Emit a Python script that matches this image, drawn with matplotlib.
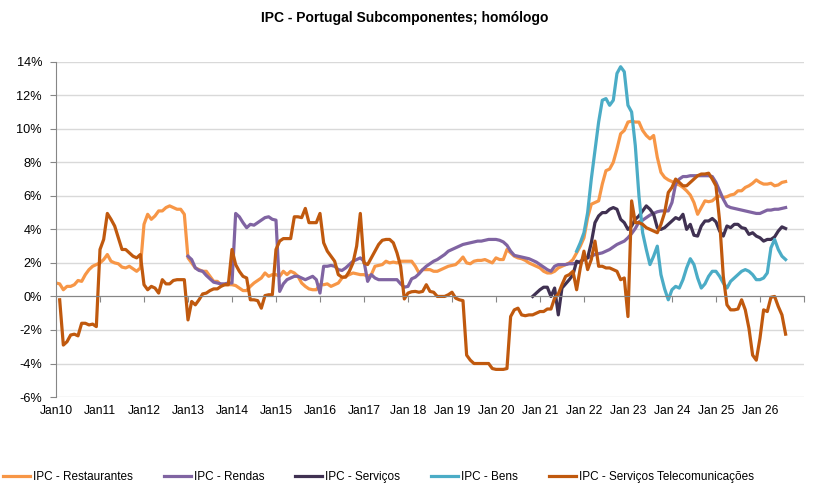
import numpy as np
import matplotlib.pyplot as plt

# ------------------------------------------------------------------
# Data: monthly yoy rates (%), Jan 2010 -> Aug 2026
# ------------------------------------------------------------------
nan = np.nan

restaurantes = [
    0.8, 0.75, 0.4, 0.6, 0.6, 0.7, 0.95, 0.9, 1.3, 1.6, 1.8, 1.9,
    2.0, 2.2, 2.5, 2.1, 2.0, 1.95, 1.75, 1.7, 1.8, 1.65, 1.5, 1.7,
    4.3, 4.9, 4.6, 4.8, 5.1, 5.1, 5.3, 5.4, 5.3, 5.2, 5.2, 4.9,
    2.3, 2.0, 1.7, 1.6, 1.5, 1.5, 1.2, 0.9, 0.9, 0.7, 0.7, 0.7,
    0.7, 0.65, 0.5, 0.35, 0.35, 0.6, 0.8, 0.95, 1.1, 1.4, 1.2, 1.3,
    1.3, 1.2, 1.5, 1.3, 1.5, 1.4, 1.2, 0.8, 0.6, 0.45, 0.4, 0.4,
    0.7, 0.7, 0.75, 0.6, 0.7, 0.8, 1.1, 1.2, 1.3, 1.4, 1.35, 1.3,
    1.3, 1.2, 1.3, 1.8, 1.85, 1.9, 2.1, 2.0, 2.05, 2.0, 2.1, 2.1,
    2.1, 2.1, 1.8, 1.4, 1.6, 1.6, 1.6, 1.5, 1.5, 1.6, 1.7, 1.8,
    1.85, 1.9, 2.1, 2.35, 2.0, 1.95, 2.1, 2.15, 2.15, 2.2, 2.1, 2.0,
    2.3, 2.2, 2.2, 2.8, 2.6, 2.4, 2.3, 2.25, 2.15, 2.0, 1.9, 1.8,
    1.7, 1.5, 1.4, 1.4, 1.5, 1.7, 1.8, 1.9, 2.0, 2.2, 2.6, 3.0,
    3.5, 4.7, 5.5, 5.6, 5.7, 6.7, 7.5, 7.6, 8.0, 8.8, 9.7, 9.9,
    10.4, 10.45, 10.4, 10.4, 9.9, 9.6, 9.4, 9.6, 8.3, 7.4, 7.1, 6.95,
    6.85, 6.7, 6.65, 6.5, 6.3, 6.05, 5.6, 4.9, 5.3, 5.7, 5.65, 5.7,
    5.9, 6.0, 5.9, 5.95, 6.05, 6.1, 6.3, 6.3, 6.5, 6.6, 6.75, 6.95,
    6.8, 6.7, 6.7, 6.75, 6.6, 6.65, 6.8, 6.85,
]

rendas = [nan] * 36 + [
    2.4, 2.2, 1.7, 1.55, 1.5, 1.25, 1.05, 0.85, 0.8, 0.75, 0.75, 0.8,
    0.8, 4.95, 4.75, 4.4, 4.1, 4.3, 4.25, 4.4, 4.55, 4.7, 4.75, 4.6,
    4.55, 0.3, 0.75, 1.0, 1.1, 1.2, 1.2, 1.1, 1.0, 1.1, 1.2, 1.0,
    0.2, 1.8, 1.8, 1.85, 1.8, 1.6, 1.55, 1.7, 1.9, 2.1, 2.2, 2.3,
    2.1, 0.9, 1.3, 1.1, 1.0, 1.0, 1.0, 1.0, 1.0, 1.0, 0.75, 0.55,
    0.6, 1.05, 1.15, 1.35, 1.6, 1.8, 1.95, 2.1, 2.2, 2.35, 2.5, 2.7,
    2.8, 2.9, 3.0, 3.1, 3.15, 3.2, 3.25, 3.3, 3.3, 3.35, 3.4, 3.4,
    3.4, 3.35, 3.25, 3.05, 2.7, 2.45, 2.4, 2.35, 2.3, 2.25, 2.15, 2.05,
    1.9, 1.75, 1.6, 1.5, 1.8, 1.9, 1.9, 1.9, 1.95, 1.95, 2.0, 2.1,
    2.2, 2.3, 2.4, 2.5, 2.55, 2.6, 2.7, 2.8, 2.95, 3.1, 3.2, 3.3,
    3.5, 3.75, 4.05, 4.45, 4.55, 4.7, 4.85, 4.95, 5.05, 5.1, 5.1, 5.1,
    5.6, 6.7, 7.0, 7.15, 7.15, 7.2, 7.2, 7.2, 7.2, 7.2, 7.2, 7.15,
    6.8, 6.3, 5.8, 5.4, 5.3, 5.25, 5.2, 5.15, 5.1, 5.05, 5.0, 4.95,
    4.95, 5.05, 5.15, 5.15, 5.2, 5.2, 5.25, 5.3,
]

servicos = [nan] * 130 + [
    0.0, 0.2,
    0.4, 0.55, 0.55, 0.0, 0.5, -1.1, 0.5, 0.75, 1.0, 1.3, 2.1, 2.0,
    2.3, 2.3, 3.2, 4.4, 4.8, 5.0, 5.0, 5.2, 5.3, 5.2, 4.6, 4.4,
    4.0, 4.2, 4.6, 4.8, 5.1, 5.4, 5.2, 4.9, 4.1, 4.0, 4.1, 4.3,
    4.5, 4.7, 4.6, 4.9, 4.0, 4.3, 3.65, 3.6, 4.2, 4.5, 4.5, 4.65,
    4.45, 3.9, 3.6, 4.2, 4.1, 4.3, 4.3, 4.1, 4.05, 3.7, 3.8, 3.6,
    3.5, 3.3, 3.4, 3.4, 3.55, 3.9, 4.15, 4.05,
]

bens = [nan] * 142 + [
    2.7, 3.2,
    3.8, 5.0, 7.0, 8.7, 10.4, 11.7, 11.8, 11.4, 11.7, 13.3, 13.7, 13.4,
    11.4, 11.0, 9.0, 6.0, 3.8, 2.8, 1.9, 2.4, 3.0, 1.3, 0.45, -0.2,
    0.4, 0.6, 0.5, 1.0, 1.7, 2.25, 1.9, 1.1, 0.5, 0.75, 1.2, 1.5,
    1.5, 1.2, 0.8, 0.5, 0.9, 1.1, 1.3, 1.5, 1.6, 1.5, 1.3, 1.0,
    1.0, 1.1, 1.4, 2.9, 3.4, 2.8, 2.4, 2.2,
]

telecom = [
    nan, -0.2, -2.9, -2.7, -2.3, -2.25, -2.35, -1.6, -1.6, -1.7, -1.65, -1.8,
    2.8, 3.4, 4.95, 4.6, 4.2, 3.5, 2.8, 2.8, 2.6, 2.4, 2.3, 2.5,
    0.7, 0.4, 0.6, 0.5, 0.2, 1.0, 0.75, 0.75, 0.95, 1.0, 1.0, 1.0,
    -1.4, -0.3, -0.5, -0.2, 0.15, 0.2, 0.35, 0.45, 0.45, 0.6, 0.7, 0.7,
    2.8, 1.9, 1.5, 1.2, 1.1, -0.2, -0.2, -0.25, -0.7, 0.05, 0.1, 0.1,
    2.8, 3.3, 3.45, 3.45, 3.45, 4.75, 4.75, 4.7, 5.25, 4.4, 4.4, 4.4,
    4.95, 3.2, 2.7, 2.4, 2.1, 1.3, 1.15, 1.15, 1.5, 2.0, 3.0, 4.95,
    2.0, 1.9, 2.3, 2.7, 3.1, 3.35, 3.4, 3.4, 3.2, 2.6, 1.8, -0.15,
    0.2, 0.28, 0.3, 0.25, 0.3, 0.7, 0.3, 0.25, 0.0, 0.0, 0.0, 0.1,
    0.25, -0.1, -0.2, -0.25, -3.5, -3.8, -4.0, -4.0, -4.0, -4.0, -4.0, -4.3,
    -4.35, -4.35, -4.35, -4.3, -1.2, -0.8, -0.7, -1.1, -1.15, -1.1, -1.1, -1.0,
    -0.9, -0.9, -0.75, -0.75, -0.1, 0.15, 0.7, 1.2, 1.3, 1.5, 0.4, 1.7,
    2.7, 1.6, 2.2, 3.3, 1.8, 1.8, 1.7, 1.7, 1.6, 1.5, 1.0, 1.1,
    -1.2, 5.7, 4.4, 4.4, 4.3, 4.1, 4.0, 3.9, 3.8, 4.3, 5.0, 6.2,
    6.5, 7.0, 6.8, 6.6, 6.6, 6.8, 7.0, 7.2, 7.3, 7.3, 7.35, 7.0,
    6.6, 4.5, 1.2, -0.5, -0.8, -0.8, -0.75, -0.2, -0.8, -1.9, -3.5, -3.8,
    -2.5, -0.8, -0.9, -0.05, 0.0, -0.6, -1.1, -2.25,
]

labels = ["IPC - Restaurantes", "IPC - Rendas", "IPC - Serviços",
          "IPC - Bens", "IPC - Serviços Telecomunicações"]
colors = ["#F79646", "#8064A2", "#403152", "#4BACC6", "#C0590E"]

years = list(range(10, 27))
xtick_labels = [f"Jan{y}" if y < 18 else f"Jan {y}" for y in years]

plt.rcParams["font.family"] = ["Liberation Sans", "DejaVu Sans"]

fig = plt.figure(figsize=(8.26, 4.92), dpi=100)
ax = fig.add_axes([0.0678, 0.193, 0.9055, 0.6816])

x = np.arange(len(restaurantes))
for series, lab, col in zip([restaurantes, rendas, servicos, bens, telecom], labels, colors):
    ax.plot(x, series, color=col, lw=2.3, label=lab, solid_joinstyle="round")

ax.set_xlim(0, 204)
ax.set_ylim(-6, 14)
ax.set_yticks(np.arange(-6, 15, 2))
ax.set_yticklabels([f"{v}%" for v in range(-6, 15, 2)])
ax.yaxis.grid(True, color="#D9D9D9", lw=1)
ax.set_axisbelow(True)

for s in ["top", "right"]:
    ax.spines[s].set_visible(False)
ax.spines["left"].set_color("#868686")
ax.spines["bottom"].set_position(("data", 0))
ax.spines["bottom"].set_color("#868686")

ax.set_xticks(np.arange(0, 205, 12))
ax.tick_params(axis="x", length=4, color="#868686", labelbottom=False)
ax.tick_params(axis="y", length=4, color="#868686", pad=6, labelsize=9.2)

sec = ax.secondary_xaxis(0)
sec.set_xticks(np.arange(0, 193, 12))
sec.set_xticklabels(xtick_labels, fontsize=8.7)
sec.tick_params(length=0, pad=6)
sec.spines["bottom"].set_visible(False)

fig.text(0.49, 0.963, "IPC - Portugal Subcomponentes; homólogo",
         ha="center", va="center", fontsize=10, fontweight="bold")

fig.legend(loc="center left", bbox_to_anchor=(-0.009, 0.03), ncol=5, frameon=False,
           fontsize=8.5, handlelength=2.3, handletextpad=0.25, columnspacing=2.6)

fig.savefig("out.png", dpi=100)
